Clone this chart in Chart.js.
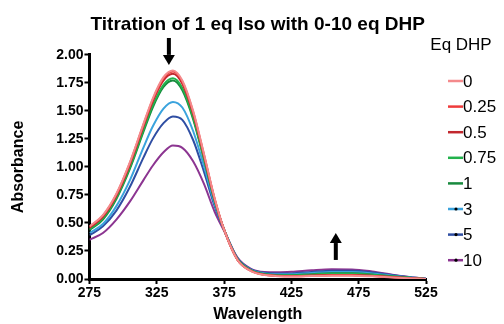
<!DOCTYPE html>
<html>
<head>
<meta charset="utf-8">
<script src="https://cdn.jsdelivr.net/npm/chart.js@4.4.0/dist/chart.umd.min.js"></script>
<style>
  body { margin: 0; background: #fff; }
  canvas { display: block; }
</style>
</head>
<body>
<canvas id="chart" width="504" height="324"></canvas>
<script>
// wavelength grid (nm)
const wavelengths = [275, 285, 295, 305, 315, 322, 330, 337, 344, 352, 360, 368, 375, 385, 395, 405, 415, 425, 440, 455, 470, 485, 500, 515, 525];

// absorbance per equivalent of DHP
const eq0   = [0.47, 0.57, 0.76, 1.04, 1.38, 1.61, 1.80, 1.86, 1.77, 1.50, 1.12, 0.72, 0.44, 0.17, 0.070, 0.035, 0.025, 0.022, 0.026, 0.030, 0.030, 0.024, 0.014, 0.005, 0.000];
const eq025 = [0.465, 0.565, 0.755, 1.033, 1.372, 1.601, 1.790, 1.85, 1.760, 1.491, 1.113, 0.715, 0.44, 0.17, 0.072, 0.037, 0.027, 0.024, 0.028, 0.033, 0.033, 0.026, 0.015, 0.005, 0.000];
const eq05  = [0.455, 0.554, 0.742, 1.019, 1.356, 1.583, 1.771, 1.83, 1.741, 1.474, 1.100, 0.710, 0.44, 0.17, 0.073, 0.038, 0.028, 0.026, 0.031, 0.036, 0.036, 0.029, 0.017, 0.006, 0.000];
const eq075 = [0.445, 0.542, 0.726, 0.996, 1.326, 1.548, 1.732, 1.79, 1.703, 1.442, 1.080, 0.700, 0.44, 0.175, 0.076, 0.042, 0.032, 0.031, 0.039, 0.046, 0.046, 0.037, 0.022, 0.008, 0.001];
const eq1   = [0.435, 0.531, 0.714, 0.982, 1.309, 1.530, 1.713, 1.77, 1.683, 1.426, 1.070, 0.695, 0.44, 0.175, 0.078, 0.044, 0.034, 0.034, 0.043, 0.051, 0.051, 0.041, 0.024, 0.009, 0.001];
const eq3   = [0.41, 0.49, 0.65, 0.88, 1.17, 1.36, 1.52, 1.58, 1.53, 1.32, 1.01, 0.67, 0.44, 0.18, 0.082, 0.050, 0.042, 0.042, 0.053, 0.063, 0.063, 0.050, 0.030, 0.011, 0.002];
const eq5   = [0.39, 0.47, 0.61, 0.82, 1.08, 1.25, 1.39, 1.45, 1.42, 1.24, 0.96, 0.65, 0.44, 0.185, 0.086, 0.055, 0.050, 0.050, 0.062, 0.073, 0.073, 0.059, 0.035, 0.013, 0.003];
const eq10  = [0.35, 0.41, 0.53, 0.69, 0.88, 1.01, 1.13, 1.19, 1.17, 1.05, 0.85, 0.60, 0.43, 0.19, 0.090, 0.062, 0.060, 0.064, 0.077, 0.086, 0.085, 0.067, 0.038, 0.014, 0.004];

const seriesLabels = ['0', '0.25', '0.5', '0.75', '1', '3', '5', '10'];
const seriesData = [eq0, eq025, eq05, eq075, eq1, eq3, eq5, eq10];
const seriesColors = ['#f48a8c', '#ef3b3b', '#c2282e', '#22b24c', '#188a3e', '#3aa3dd', '#2f4ea3', '#8c3591'];
const seriesDots = [false, false, false, false, false, true, true, true];

const FONT = 'Liberation Sans, Arial, Helvetica, sans-serif';

// legend on the right, drawn by hand to match the original layout
const eqLegend = {
  id: 'eqLegend',
  afterDraw(chart) {
    const ctx = chart.ctx;
    const x0 = chart.chartArea.right + 22;
    ctx.save();
    ctx.fillStyle = '#000';
    ctx.font = '17px ' + FONT;
    ctx.textAlign = 'center';
    ctx.textBaseline = 'middle';
    ctx.fillText('Eq DHP', x0 + 13, 45);
    ctx.textAlign = 'left';
    chart.data.datasets.forEach((ds, i) => {
      const y = 81 + i * 25.6;
      ctx.strokeStyle = ds.borderColor;
      ctx.lineWidth = 2.5;
      ctx.beginPath();
      ctx.moveTo(x0, y);
      ctx.lineTo(x0 + 15, y);
      ctx.stroke();
      if (seriesDots[i]) {
        ctx.fillStyle = '#000';
        ctx.beginPath();
        ctx.arc(x0 + 8, y, 1.6, 0, Math.PI * 2);
        ctx.fill();
      }
      ctx.fillStyle = '#000';
      ctx.fillText(ds.label, x0 + 15, y + 1);
    });
    ctx.restore();
  }
};

// the two black arrows showing the direction of change
function drawArrow(ctx, x, yTail, yTip) {
  const dir = yTip > yTail ? 1 : -1;
  const head = 10;
  ctx.fillStyle = '#000';
  ctx.fillRect(x - 2, Math.min(yTail, yTip - dir * head), 4, Math.abs(yTip - dir * head - yTail));
  ctx.beginPath();
  ctx.moveTo(x - 6, yTip - dir * head);
  ctx.lineTo(x + 6, yTip - dir * head);
  ctx.lineTo(x, yTip);
  ctx.closePath();
  ctx.fill();
}

const arrows = {
  id: 'arrows',
  afterDraw(chart) {
    const xs = chart.scales.x, ys = chart.scales.y;
    const ctx = chart.ctx;
    ctx.save();
    drawArrow(ctx, xs.getPixelForValue(334), ys.getPixelForValue(2.15), ys.getPixelForValue(1.91));
    drawArrow(ctx, xs.getPixelForValue(458), ys.getPixelForValue(0.17), ys.getPixelForValue(0.41));
    ctx.restore();
  }
};

function generateTitration() {
  new Chart(document.querySelector('#chart'), {
    type: 'line',
    data: {
      datasets: seriesData.map((vals, i) => ({
        label: seriesLabels[i],
        data: vals.map((v, j) => ({ x: wavelengths[j], y: v })),
        borderColor: seriesColors[i],
        backgroundColor: seriesColors[i],
        borderWidth: 2,
        pointRadius: 0,
        cubicInterpolationMode: 'monotone'
      }))
    },
    options: {
      responsive: false,
      animation: false,
      plugins: {
        legend: { display: false },
        tooltip: { enabled: false },
        title: {
          display: true,
          fullSize: false,
          text: 'Titration of 1 eq Iso with 0-10 eq DHP',
          color: '#000',
          font: { family: FONT, size: 19, weight: 'bold' },
          padding: { top: 13, bottom: 19 }
        }
      },
      layout: {
        padding: { left: 0, right: 78, top: 0, bottom: 0 }
      },
      scales: {
        x: {
          type: 'linear',
          min: 275,
          max: 525,
          border: { display: true, color: '#000', width: 3 },
          grid: { drawOnChartArea: false, drawTicks: true, tickLength: 5, tickWidth: 2, tickColor: '#000' },
          ticks: {
            stepSize: 50,
            padding: 1,
            color: '#000',
            font: { family: FONT, size: 14, weight: 'bold' }
          },
          title: {
            display: true,
            text: 'Wavelength',
            color: '#000',
            font: { family: FONT, size: 16, weight: 'bold' },
            padding: { top: 2, bottom: 0 }
          }
        },
        y: {
          min: 0,
          max: 2,
          border: { display: true, color: '#000', width: 3 },
          grid: { drawOnChartArea: false, drawTicks: true, tickLength: 5, tickWidth: 2, tickColor: '#000' },
          ticks: {
            stepSize: 0.25,
            padding: 1,
            color: '#000',
            font: { family: FONT, size: 14, weight: 'bold' },
            callback: v => v.toFixed(2)
          },
          title: {
            display: true,
            text: 'Absorbance',
            color: '#000',
            font: { family: FONT, size: 16, weight: 'bold' },
            padding: { top: 9, bottom: 27 }
          }
        }
      }
    },
    plugins: [eqLegend, arrows]
  });
}

generateTitration();
</script>
</body>
</html>
